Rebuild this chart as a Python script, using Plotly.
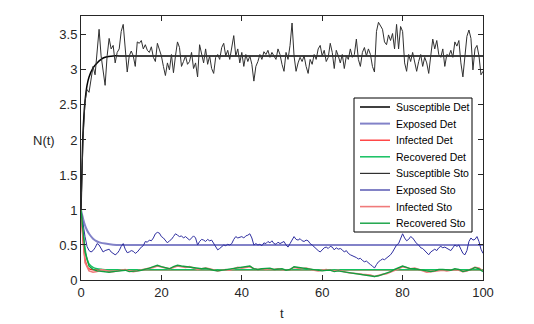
import plotly.graph_objects as go

# ---- data -------------------------------------------------------------
# deterministic solutions (sampled at a few times, drawn smooth)
t_det = [0, 0.5, 1, 1.5, 2, 3, 4, 5, 6, 8, 10, 15, 100]
s_det = [1.0, 2.1, 2.55, 2.78, 2.9, 3.03, 3.1, 3.15, 3.18, 3.2, 3.2, 3.2, 3.2]
e_det = [1.0, 0.88, 0.78, 0.71, 0.66, 0.59, 0.55, 0.53, 0.52, 0.505, 0.5, 0.5, 0.5]
i_det = [1.0, 0.55, 0.3, 0.2, 0.16, 0.145, 0.145, 0.145, 0.145, 0.145, 0.145, 0.145, 0.145]
r_det = [1.0, 0.7, 0.45, 0.3, 0.23, 0.18, 0.16, 0.152, 0.148, 0.145, 0.145, 0.145, 0.145]

# stochastic paths, step 0.5
s_sto = [1.00, 2.00, 2.55, 2.72, 2.68, 2.88, 3.05, 2.93, 3.30, 3.58,
         3.20, 2.95, 2.78, 3.20, 3.45, 3.30, 3.35, 3.10, 3.25, 3.30,
         3.55, 3.65, 3.25, 2.97, 3.20, 3.27, 3.20, 3.05, 3.40, 3.38,
         3.42, 3.30, 3.36, 3.28, 3.25, 3.33, 3.18, 3.12, 3.38, 3.28,
         3.20, 3.05, 2.92, 3.10, 3.00, 3.22, 2.96, 3.20, 3.40, 3.32,
         3.05, 3.12, 3.20, 3.08, 3.12, 3.25, 3.02, 3.10, 2.90, 3.36,
         3.22, 3.10, 3.30, 3.08, 3.20, 3.02, 2.95, 3.18, 3.22, 3.15,
         3.32, 3.38, 3.20, 3.28, 3.15, 3.30, 3.49, 3.20, 3.30, 3.10,
         3.25, 3.05, 3.22, 3.12, 3.20, 3.08, 2.84, 3.05, 3.12, 3.22,
         3.15, 3.26, 3.22, 3.28, 3.18, 3.25, 3.20, 3.15, 3.30, 3.22,
         3.08, 2.98, 3.25, 3.15, 3.35, 3.67, 3.20, 2.98, 3.10, 3.18,
         3.12, 3.20, 3.05, 2.95, 3.15, 3.08, 3.22, 3.15, 3.30, 3.35,
         3.20, 3.28, 3.12, 3.18, 3.38, 3.25, 3.02, 3.28, 3.20, 3.10,
         3.22, 3.02, 3.20, 3.15, 3.30, 3.18, 3.22, 3.44, 3.15, 3.05,
         3.25, 3.32, 3.20, 3.30, 3.22, 3.05, 2.97, 3.55, 3.68, 3.62,
         3.58, 3.40, 3.36, 3.50, 3.42, 3.52, 3.30, 3.65, 3.30, 3.62,
         3.55, 3.10, 2.98, 3.22, 3.12, 3.25, 3.10, 2.98, 3.12, 3.22,
         3.05, 3.18, 3.10, 2.95, 3.20, 3.44, 3.30, 3.42, 3.22, 3.18,
         3.30, 3.05, 3.22, 3.20, 3.28, 3.18, 3.40, 3.34, 3.42, 3.10,
         2.90, 3.22, 3.48, 3.57, 3.45, 3.00, 3.30, 3.35, 3.20, 2.93,
         2.98]
e_sto = [1.00, 0.80, 0.62, 0.48, 0.42, 0.40, 0.42, 0.46, 0.52, 0.50,
         0.44, 0.40, 0.42, 0.43, 0.44, 0.40, 0.38, 0.36, 0.38, 0.42,
         0.48, 0.52, 0.44, 0.39, 0.40, 0.42, 0.41, 0.38, 0.40, 0.44,
         0.47, 0.49, 0.55, 0.54, 0.57, 0.56, 0.60, 0.66, 0.68, 0.67,
         0.62, 0.60, 0.56, 0.53, 0.56, 0.58, 0.62, 0.66, 0.64, 0.62,
         0.63, 0.60, 0.62, 0.60, 0.57, 0.60, 0.63, 0.60, 0.50, 0.55,
         0.58, 0.57, 0.55, 0.58, 0.56, 0.57, 0.52, 0.46, 0.43, 0.45,
         0.48, 0.50, 0.49, 0.51, 0.50, 0.52, 0.58, 0.62, 0.60, 0.61,
         0.62, 0.60, 0.63, 0.64, 0.66, 0.60, 0.50, 0.52, 0.50, 0.51,
         0.49, 0.53, 0.52, 0.55, 0.53, 0.56, 0.52, 0.51, 0.54, 0.52,
         0.53, 0.55, 0.50, 0.47, 0.52, 0.58, 0.62, 0.58, 0.57, 0.59,
         0.56, 0.55, 0.57, 0.56, 0.52, 0.50, 0.47, 0.44, 0.42, 0.40,
         0.43, 0.46, 0.47, 0.45, 0.48, 0.47, 0.43, 0.46, 0.44, 0.45,
         0.43, 0.40, 0.42, 0.38, 0.36, 0.35, 0.34, 0.32, 0.30, 0.31,
         0.28, 0.26, 0.27, 0.24, 0.22, 0.20, 0.17, 0.22, 0.26, 0.28,
         0.30, 0.29, 0.31, 0.33, 0.36, 0.40, 0.45, 0.50, 0.52, 0.58,
         0.66, 0.60, 0.56, 0.58, 0.62, 0.60, 0.55, 0.52, 0.50, 0.46,
         0.45, 0.42, 0.38, 0.36, 0.40, 0.42, 0.44, 0.42, 0.46, 0.48,
         0.46, 0.47, 0.45, 0.43, 0.42, 0.46, 0.50, 0.48, 0.50, 0.44,
         0.38, 0.36, 0.42, 0.55, 0.60, 0.57, 0.58, 0.62, 0.55, 0.44,
         0.38]
t_sto = [k * 0.5 for k in range(len(s_sto))]

# infected / recovered stochastic paths, step 1
i_sto = [1.00, 0.25, 0.13, 0.11, 0.12, 0.15, 0.14, 0.12, 0.12, 0.13,
         0.14, 0.15, 0.13, 0.12, 0.13, 0.14, 0.15, 0.17, 0.18, 0.20,
         0.19, 0.17, 0.16, 0.18, 0.20, 0.19, 0.18, 0.19, 0.17, 0.15,
         0.16, 0.17, 0.16, 0.14, 0.13, 0.14, 0.15, 0.14, 0.16, 0.18,
         0.17, 0.18, 0.19, 0.16, 0.15, 0.16, 0.15, 0.16, 0.15, 0.16,
         0.15, 0.14, 0.15, 0.18, 0.17, 0.16, 0.17, 0.15, 0.14, 0.13,
         0.14, 0.15, 0.14, 0.13, 0.14, 0.12, 0.11, 0.10, 0.10, 0.09,
         0.08, 0.08, 0.07, 0.05, 0.07, 0.08, 0.09, 0.11, 0.14, 0.16,
         0.19, 0.17, 0.16, 0.17, 0.15, 0.13, 0.11, 0.12, 0.13, 0.14,
         0.14, 0.13, 0.14, 0.15, 0.14, 0.12, 0.13, 0.16, 0.18, 0.17,
         0.13]
r_sto = [1.00, 0.40, 0.20, 0.15, 0.13, 0.12, 0.12, 0.11, 0.12, 0.13,
         0.14, 0.14, 0.12, 0.12, 0.13, 0.14, 0.15, 0.17, 0.19, 0.21,
         0.19, 0.17, 0.16, 0.19, 0.21, 0.20, 0.19, 0.19, 0.18, 0.16,
         0.16, 0.17, 0.15, 0.14, 0.13, 0.14, 0.15, 0.15, 0.17, 0.18,
         0.18, 0.19, 0.20, 0.16, 0.15, 0.16, 0.16, 0.17, 0.15, 0.16,
         0.16, 0.14, 0.15, 0.19, 0.18, 0.17, 0.17, 0.16, 0.14, 0.13,
         0.13, 0.14, 0.14, 0.12, 0.13, 0.12, 0.11, 0.10, 0.09, 0.09,
         0.08, 0.07, 0.06, 0.05, 0.06, 0.08, 0.09, 0.12, 0.15, 0.17,
         0.20, 0.18, 0.16, 0.16, 0.15, 0.13, 0.12, 0.12, 0.13, 0.15,
         0.15, 0.14, 0.14, 0.16, 0.15, 0.12, 0.13, 0.15, 0.18, 0.16,
         0.12]
t_ir = list(range(len(i_sto)))

x_ticks = [0, 20, 40, 60, 80, 100]
y_ticks = [0, 0.5, 1, 1.5, 2, 2.5, 3, 3.5]

FONT = "Arial, Liberation Sans, sans-serif"
INK = "#262626"

fig = go.Figure()

series = [
    ("Susceptible Det", t_det, s_det, "#000000", 1.5, "spline"),
    ("Exposed Det", t_det, e_det, "#8282c8", 2.0, "spline"),
    ("Infected Det", t_det, i_det, "#ff1a1a", 1.2, "spline"),
    ("Recovered Det", t_det, r_det, "#14c060", 1.5, "spline"),
    ("Susceptible Sto", t_sto, s_sto, "#303030", 1.0, "linear"),
    ("Exposed Sto", t_sto, e_sto, "#2f2fa0", 1.0, "linear"),
    ("Infected Sto", t_ir, i_sto, "#f07a7a", 1.6, "linear"),
    ("Recovered Sto", t_ir, r_sto, "#10a040", 1.4, "linear"),
]
for name, xs, ys, col, w, shp in series:
    line = dict(color=col, width=w, shape=shp)
    if shp == "spline":
        line["smoothing"] = 0.5
    fig.add_trace(go.Scatter(x=xs, y=ys, mode="lines", name=name,
                             line=line, showlegend=False))

axis_common = dict(showgrid=False, zeroline=False, showline=True, linecolor=INK,
                   linewidth=1, mirror="ticks", ticks="inside", ticklen=5,
                   tickcolor=INK, tickfont=dict(family=FONT, size=13, color=INK))
fig.update_xaxes(range=[0, 100], tickvals=x_ticks, **axis_common)
fig.update_yaxes(range=[0, 3.77], tickvals=y_ticks, **axis_common)

fig.add_annotation(text="N(t)", xref="paper", yref="paper", x=-0.06, y=0.527,
                   xanchor="right", yanchor="middle", showarrow=False,
                   font=dict(family=FONT, size=13, color=INK))
fig.add_annotation(text="t", xref="paper", yref="paper", x=0.5, y=-0.125,
                   xanchor="center", yanchor="middle", showarrow=False,
                   font=dict(family=FONT, size=13, color=INK))

# MATLAB-style legend box drawn by hand (tighter rows than plotly's legend)
PW, PH = 402, 264          # plot area in pixels
def px(x):
    return x / PW
def py(y):
    return 1 - y / PH

box_l, box_r, box_t, box_b = 273, 391, 82, 216   # relative to plot area
fig.add_shape(type="rect", xref="paper", yref="paper",
              x0=px(box_l), x1=px(box_r), y0=py(box_b), y1=py(box_t),
              line=dict(color="#000000", width=1), fillcolor="white", layer="above")
row0, row_h = 91, 16.6
for k, (name, _, _, col, w, _) in enumerate(series):
    yy = py(row0 + k * row_h)
    fig.add_shape(type="line", xref="paper", yref="paper",
                  x0=px(279), x1=px(309), y0=yy, y1=yy,
                  line=dict(color=col, width=max(w, 1.2)), layer="above")
    fig.add_annotation(text=name, xref="paper", yref="paper", x=px(313), y=yy,
                       xanchor="left", yanchor="middle", showarrow=False,
                       font=dict(family=FONT, size=10.5, color="#000000"))

# page body adds an 8px margin, so the figure is 8px smaller and offset
fig.update_layout(
    width=526, height=316,
    margin=dict(l=73, r=51, t=8, b=44),
    paper_bgcolor="white", plot_bgcolor="white",
    showlegend=False,
)

fig.write_html("out.html")
